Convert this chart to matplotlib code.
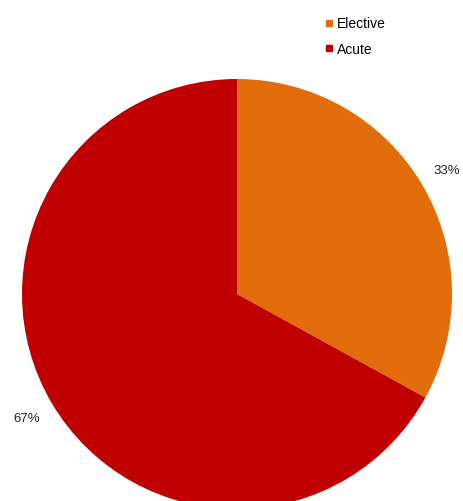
import matplotlib.pyplot as plt
from matplotlib.lines import Line2D

categories = ['Elective', 'Acute']
shares = [33, 67]
pct_labels = ['33%', '67%']
colors = ['#E36C0A', '#C00000']

fig = plt.figure(figsize=(4.64, 5.02), dpi=100)
ax = fig.add_axes([0, 0, 1, 1])

wedges, texts = ax.pie(shares, labels=pct_labels, colors=colors, startangle=90,
                       counterclock=False, center=(237, 207), radius=215,
                       labeldistance=1.135, frame=True,
                       textprops={'fontsize': 9.5, 'color': '#222222', 'family': 'Liberation Sans'})
for t in texts:
    t.set_ha('center')
    t.set_va('center')
ax.set_xlim(0, 464)
ax.set_ylim(0, 502)
ax.set_aspect('equal')
ax.axis('off')

handles = [Line2D([], [], marker='s', linestyle='', markersize=5, color=c) for c in colors]
ax.legend(handles, categories, loc='upper left', bbox_to_anchor=(312 / 464, 1 - 5 / 502),
          frameon=False, handlelength=0.6, handletextpad=0.3, labelspacing=0.8,
          prop={'family': 'Liberation Sans', 'size': 10})

fig.savefig('out.png', dpi=100)
